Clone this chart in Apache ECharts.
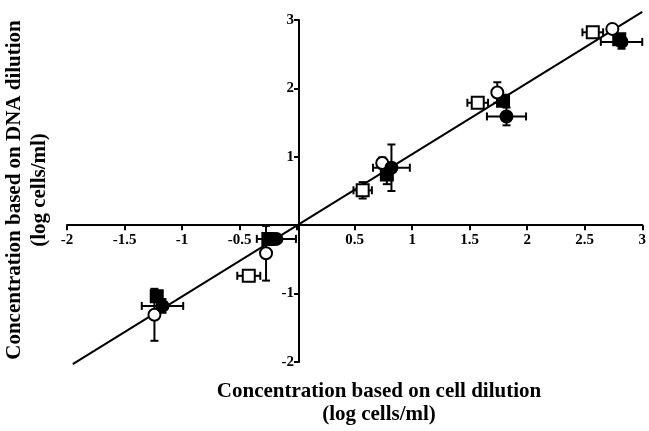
<html>
<head>
<meta charset="utf-8"/>
<title>cell vs DNA dilution</title>
<script src="https://cdn.jsdelivr.net/npm/echarts@6/dist/echarts.min.js"></script>
</head>
<body style="margin:0">
<div id="main" style="width:649px;height:431px;"></div>
<script type="text/javascript">
// open squares
var osX = [-0.42, 0.57, 1.57, 2.57];
var osY = [-0.74, 0.51, 1.79, 2.82];
var osXerr = [0.10, 0.08, 0.09, 0.09];
var osYerr = [0.04, 0.12, 0.05, 0.04];
// filled squares
var fsX = [-1.22, -0.25, 0.78, 1.79, 2.80];
var fsY = [-1.04, -0.20, 0.74, 1.82, 2.72];
var fsXerr = [0.03, 0.03, 0.03, 0.03, 0.03];
var fsYerr = [0.08, 0.06, 0.14, 0.05, 0.05];
// open circles
var ocX = [-1.24, -0.27, 0.74, 1.74, 2.74];
var ocY = [-1.31, -0.41, 0.91, 1.94, 2.87];
var ocXerr = [0.02, 0.02, 0.03, 0.03, 0.03];
var ocYerr = [0.38, 0.40, 0.08, 0.15, 0.06];
// filled circles
var fcX = [-1.17, -0.18, 0.82, 1.82, 2.82];
var fcY = [-1.18, -0.20, 0.84, 1.59, 2.68];
var fcXerr = [0.18, 0.17, 0.16, 0.17, 0.18];
var fcYerr = [0.10, 0.05, 0.34, 0.13, 0.10];
// regression line
var lineX = [-1.95, 3.0];
var lineY = [-2.03, 3.12];

var font = 'Liberation Serif';

function pts(xs, ys) {
    return xs.map(function (x, i) { return [x, ys[i]]; });
}
function errs(xs, ys, ex, ey) {
    return xs.map(function (x, i) { return [x, ys[i], ex[i], ey[i]]; });
}

function errItem(params, api) {
    var x = api.value(0), y = api.value(1), ex = api.value(2), ey = api.value(3);
    var l = api.coord([x - ex, y]), r = api.coord([x + ex, y]);
    var t = api.coord([x, y + ey]), b = api.coord([x, y - ey]);
    var st = { stroke: '#000', lineWidth: 2 };
    var cap = 4;
    var kids = [];
    if (r[0] - l[0] > 10) {
        kids.push({ type: 'line', shape: { x1: l[0], y1: l[1], x2: r[0], y2: r[1] }, style: st });
        kids.push({ type: 'line', shape: { x1: l[0], y1: l[1] - cap, x2: l[0], y2: l[1] + cap }, style: st });
        kids.push({ type: 'line', shape: { x1: r[0], y1: r[1] - cap, x2: r[0], y2: r[1] + cap }, style: st });
    }
    if (b[1] - t[1] > 10) {
        kids.push({ type: 'line', shape: { x1: t[0], y1: t[1], x2: b[0], y2: b[1] }, style: st });
        kids.push({ type: 'line', shape: { x1: t[0] - cap, y1: t[1], x2: t[0] + cap, y2: t[1] }, style: st });
        kids.push({ type: 'line', shape: { x1: b[0] - cap, y1: b[1], x2: b[0] + cap, y2: b[1] }, style: st });
    }
    return { type: 'group', children: kids };
}

function errSeries(data) {
    return { type: 'custom', renderItem: errItem, data: data, z: 3, silent: true, clip: false };
}
function markSeries(data, symbol, filled) {
    return {
        type: 'scatter', data: data, symbol: symbol, symbolSize: 12, z: 5, silent: true,
        itemStyle: { color: filled ? '#000' : '#fff', borderColor: '#000', borderWidth: 2, opacity: 1 }
    };
}

var myChart = echarts.init(document.getElementById('main'));
// axes cross at the origin: shift them inside the grid with negative offsets
var option = {
    animation: false,
    backgroundColor: '#fff',
    grid: { left: 67, right: 2, top: 20, bottom: 69 },
    xAxis: {
        type: 'value', min: -2, max: 3, interval: 0.5,
        position: 'bottom', offset: -136.8,
        axisLine: { onZero: false, lineStyle: { color: '#000', width: 2 } },
        axisTick: { length: 5, lineStyle: { color: '#000', width: 2 } },
        axisLabel: {
            color: '#000', fontFamily: font, fontWeight: 'bold', fontSize: 15, margin: 7,
            formatter: function (v) { return v === 0 ? '' : String(v); }
        },
        splitLine: { show: false }
    },
    yAxis: {
        type: 'value', min: -2, max: 3, interval: 1,
        position: 'left', offset: -232,
        axisLine: { onZero: false, lineStyle: { color: '#000', width: 2 } },
        axisTick: { length: 5, lineStyle: { color: '#000', width: 2 } },
        axisLabel: {
            color: '#000', fontFamily: font, fontWeight: 'bold', fontSize: 15, margin: 5,
            formatter: function (v) { return v === 0 ? '' : String(v); }
        },
        splitLine: { show: false }
    },
    graphic: [
        {
            type: 'text', x: 27, y: 190, rotation: Math.PI / 2,
            style: {
                text: 'Concentration based on DNA dilution\n(log cells/ml)',
                font: 'bold 21px "Liberation Serif"', fill: '#000',
                textAlign: 'center', textVerticalAlign: 'middle', lineHeight: 25
            }
        },
        {
            type: 'text', x: 379, y: 403,
            style: {
                text: 'Concentration based on cell dilution\n(log cells/ml)',
                font: 'bold 21px "Liberation Serif"', fill: '#000',
                textAlign: 'center', textVerticalAlign: 'middle', lineHeight: 23
            }
        }
    ],
    series: [
        {
            type: 'line', data: pts(lineX, lineY), symbol: 'none', clip: false, silent: true,
            lineStyle: { color: '#000', width: 2 }, z: 2
        },
        errSeries(errs(osX, osY, osXerr, osYerr)),
        errSeries(errs(fsX, fsY, fsXerr, fsYerr)),
        errSeries(errs(ocX, ocY, ocXerr, ocYerr)),
        errSeries(errs(fcX, fcY, fcXerr, fcYerr)),
        markSeries(pts(osX, osY), 'rect', false),
        markSeries(pts(fsX, fsY), 'rect', true),
        markSeries(pts(ocX, ocY), 'circle', false),
        markSeries(pts(fcX, fcY), 'circle', true)
    ]
};
myChart.setOption(option);
</script>
</body>
</html>
